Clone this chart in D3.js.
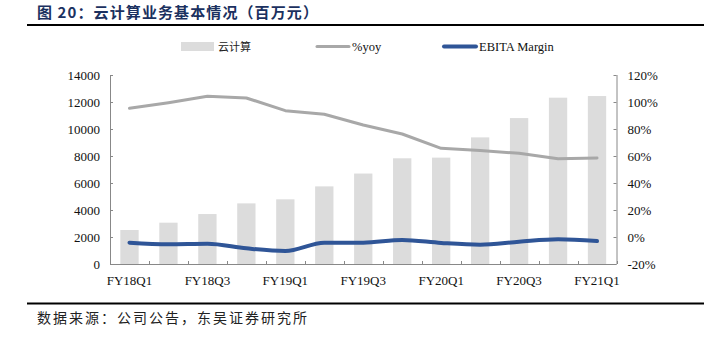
<!DOCTYPE html>
<html>
<head>
<meta charset="utf-8">
<script src="https://cdn.jsdelivr.net/npm/d3@7"></script>
<style>
  body { margin: 0; background: #fff; }
</style>
</head>
<body>
<div id="chart"></div>
<script>
// quarters, revenue (million) and two ratio series
var quarters = ["FY18Q1", "FY18Q2", "FY18Q3", "FY18Q4", "FY19Q1", "FY19Q2", "FY19Q3",
    "FY19Q4", "FY20Q1", "FY20Q2", "FY20Q3", "FY20Q4", "FY21Q1"];
var cloudRevenue = [2520, 3060, 3700, 4490, 4790, 5750, 6700, 7830, 7880, 9380, 10810, 12320, 12440];
var yoyPct = [95.3, 99.5, 104.2, 103.0, 93.6, 90.9, 83.0, 76.3, 65.7, 64.0, 62.0, 58.0, 58.5];
var ebitaPct = [-4.2, -5.4, -5.0, -8.4, -10.4, -4.2, -4.2, -2.2, -4.4, -5.7, -3.5, -1.7, -3.0];
var leftTicks = [0, 2000, 4000, 6000, 8000, 10000, 12000, 14000];
var rightTicks = [-20, 0, 20, 40, 60, 80, 100, 120];

var W = 717, H = 343;
var plot = { left: 110, right: 616.5, top: 75, bottom: 264 };
var SERIF = "'Liberation Serif', 'Times New Roman', Times, serif";
var CJK = "'Noto Sans CJK SC', sans-serif";

var svg = d3.select("#chart").append("svg")
    .attr("width", W)
    .attr("height", H);

// header and footer
svg.append("text")
    .style("font-family", CJK)
    .attr("x", 37)
    .attr("y", 18)
    .attr("fill", "#1b3160")
    .attr("font-size", 15)
    .attr("font-weight", "bold")
    .attr("letter-spacing", 1.1)
    .text("图 20：云计算业务基本情况（百万元）");
svg.append("line")
    .attr("x1", 27).attr("x2", 704)
    .attr("y1", 25).attr("y2", 25)
    .attr("stroke", "#000").attr("stroke-width", 2);
svg.append("line")
    .attr("x1", 27).attr("x2", 704)
    .attr("y1", 303.5).attr("y2", 303.5)
    .attr("stroke", "#000").attr("stroke-width", 2);
svg.append("text")
    .style("font-family", CJK)
    .attr("x", 37)
    .attr("y", 323)
    .attr("fill", "#222")
    .attr("font-size", 14)
    .attr("letter-spacing", 2)
    .text("数据来源：公司公告，东吴证券研究所");

// scales
var x = d3.scaleBand().domain(quarters).range([plot.left, plot.right]).paddingInner(0.53).paddingOuter(0.265);
var xc = function (q) { return x(q) + x.bandwidth() / 2; };
var yL = d3.scaleLinear().domain([0, 14000]).range([plot.bottom, plot.top]);
var yR = d3.scaleLinear().domain([-20, 120]).range([plot.bottom, plot.top]);

// bars
svg.append("g").selectAll("rect")
    .data(cloudRevenue)
    .enter().append("rect")
    .attr("x", function (d, i) { return x(quarters[i]); })
    .attr("y", function (d) { return yL(d); })
    .attr("width", x.bandwidth())
    .attr("height", function (d) { return plot.bottom - yL(d); })
    .attr("fill", "#dcdcdc");

// axes
var leftAxis = d3.axisLeft(yL).tickValues(leftTicks).tickSize(-3).tickPadding(10).tickFormat(d3.format("d"));
var gl = svg.append("g").attr("transform", "translate(" + plot.left + ",0)").call(leftAxis);

var rightAxis = d3.axisRight(yR).tickValues(rightTicks).tickSize(-3).tickPadding(11)
    .tickFormat(function (d) { return d + "%"; });
var gr = svg.append("g").attr("transform", "translate(" + plot.right + ",0)").call(rightAxis);

var edges = d3.range(quarters.length + 1).map(function (i) {
    return plot.left + i * (plot.right - plot.left) / quarters.length;
});
var gx = svg.append("g");
gx.append("line")
    .attr("x1", plot.left).attr("x2", plot.right)
    .attr("y1", plot.bottom + 0.5).attr("y2", plot.bottom + 0.5)
    .attr("stroke", "#888");
gx.selectAll(".xt").data(edges).enter().append("line")
    .attr("x1", function (d) { return Math.round(d) + 0.5; })
    .attr("x2", function (d) { return Math.round(d) + 0.5; })
    .attr("y1", plot.bottom - 3).attr("y2", plot.bottom)
    .attr("stroke", "#888");
gx.selectAll(".xl").data(quarters.filter(function (q, i) { return i % 2 === 0; }))
    .enter().append("text")
    .style("font-family", SERIF)
    .attr("x", xc)
    .attr("y", plot.bottom + 21)
    .attr("text-anchor", "middle")
    .attr("font-size", 13)
    .attr("fill", "#111")
    .text(function (d) { return d; });

[gl, gr].forEach(function (g) {
    g.attr("font-family", null);
    g.select(".domain").attr("stroke", "#888");
    g.selectAll(".tick line").attr("stroke", "#888");
    g.selectAll(".tick text").attr("font-size", 13).attr("fill", "#111")
        .style("font-family", SERIF);
});
gl.select(".domain").attr("d", "M0.5," + plot.top + "V" + plot.bottom);
gr.select(".domain").attr("d", "M0.5," + plot.top + "V" + plot.bottom);

// lines
var yoyLine = d3.line()
    .x(function (d, i) { return xc(quarters[i]); })
    .y(function (d) { return yR(d); });
svg.append("path")
    .datum(yoyPct)
    .attr("d", yoyLine)
    .attr("fill", "none")
    .attr("stroke", "#a8a8a8")
    .attr("stroke-width", 3)
    .attr("stroke-linejoin", "round")
    .attr("stroke-linecap", "round");
svg.append("path")
    .datum(ebitaPct)
    .attr("d", yoyLine.curve(d3.curveMonotoneX))
    .attr("fill", "none")
    .attr("stroke", "#2f5597")
    .attr("stroke-width", 4)
    .attr("stroke-linejoin", "round")
    .attr("stroke-linecap", "round");

// legend
var lg = svg.append("g");
lg.append("rect").attr("x", 181).attr("y", 42).attr("width", 33).attr("height", 9).attr("fill", "#dcdcdc");
lg.append("text").style("font-family", CJK).attr("x", 218).attr("y", 50.5).attr("font-size", 11).attr("fill", "#222").text("云计算");
lg.append("line").attr("x1", 317).attr("x2", 349).attr("y1", 46.5).attr("y2", 46.5)
    .attr("stroke", "#a8a8a8").attr("stroke-width", 3).attr("stroke-linecap", "round");
lg.append("text").style("font-family", SERIF).attr("x", 352).attr("y", 50.5).attr("font-size", 12.5).attr("fill", "#111").text("%yoy");
lg.append("line").attr("x1", 444).attr("x2", 476).attr("y1", 46.5).attr("y2", 46.5)
    .attr("stroke", "#2f5597").attr("stroke-width", 4).attr("stroke-linecap", "round");
lg.append("text").style("font-family", SERIF).attr("x", 479).attr("y", 50.5).attr("font-size", 12.5).attr("fill", "#111").text("EBITA Margin");
</script>
</body>
</html>
